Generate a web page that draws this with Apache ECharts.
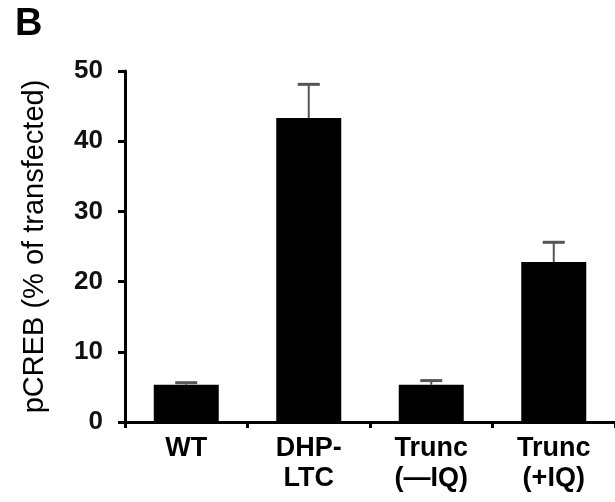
<!DOCTYPE html>
<html>
<head>
<meta charset="utf-8">
<script src="https://cdn.jsdelivr.net/npm/echarts@6/dist/echarts.min.js"></script>
<style>
  html, body { margin: 0; padding: 0; background: #fff; }
  #chart { width: 615px; height: 502px; }
</style>
</head>
<body>
<div id="chart"></div>
<script>
// data
const categories = ["WT", "DHP-\nLTC", "Trunc\n(\u2014IQ)", "Trunc\n(+IQ)"];
const means = [5.3, 43.3, 5.3, 22.8];
const errors = [0.3, 4.8, 0.6, 2.8];

const FONT = "'Liberation Sans', Arial, sans-serif";

const chart = echarts.init(document.getElementById("chart"));

// error bar = [category index, mean, mean + sem]
const errData = means.map((m, i) => [i, m, m + errors[i]]);

chart.setOption({
  animation: false,
  backgroundColor: "#fff",
  title: {
    text: "B",
    left: 10,
    top: 1,
    textStyle: { fontFamily: FONT, fontSize: 38, fontWeight: "bold", color: "#000" }
  },
  grid: { left: 125, top: 71, width: 492, height: 351 },
  xAxis: {
    type: "category",
    data: categories,
    axisLine: { lineStyle: { color: "#000", width: 3 } },
    axisTick: { show: true, length: 6, lineStyle: { color: "#000", width: 3 } },
    axisLabel: {
      margin: 12,
      fontFamily: FONT,
      fontSize: 27,
      fontWeight: "bold",
      lineHeight: 30,
      color: "#000"
    }
  },
  yAxis: {
    type: "value",
    min: 0,
    max: 50,
    interval: 10,
    name: "pCREB (% of transfected)",
    nameLocation: "middle",
    nameRotate: 90,
    nameGap: 76,
    nameTextStyle: { fontFamily: FONT, fontSize: 29, color: "#000" },
    splitLine: { show: false },
    axisLine: { show: true, lineStyle: { color: "#000", width: 3 } },
    axisTick: { show: true, length: 7, lineStyle: { color: "#000", width: 3 } },
    axisLabel: {
      margin: 22,
      fontFamily: FONT,
      fontSize: 26,
      fontWeight: "bold",
      color: "#111",
      padding: [0, 0, 8, 0]
    }
  },
  series: [
    {
      type: "bar",
      data: means,
      barWidth: 65,
      itemStyle: { color: "#000" }
    },
    {
      type: "custom",
      data: errData,
      z: 3,
      renderItem: function (params, api) {
        const base = api.coord([api.value(0), api.value(1)]);
        const top = api.coord([api.value(0), api.value(2)]);
        const half = 11;
        return {
          type: "group",
          children: [
            {
              type: "line",
              shape: { x1: base[0], y1: base[1], x2: top[0], y2: top[1] },
              style: { stroke: "#555", lineWidth: 2 }
            },
            {
              type: "line",
              shape: { x1: top[0] - half, y1: top[1], x2: top[0] + half, y2: top[1] },
              style: { stroke: "#555", lineWidth: 3 }
            }
          ]
        };
      }
    }
  ]
});
</script>
</body>
</html>
